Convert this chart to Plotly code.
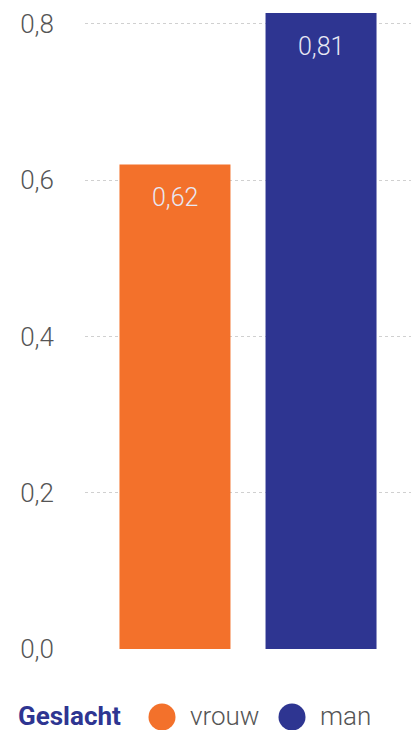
import plotly.graph_objects as go

categories = ["vrouw", "man"]
values = [0.62, 0.814]
colors = ["#F3712B", "#2E3591"]
legend_title = "Geslacht"
tick_vals = [0.0, 0.2, 0.4, 0.6, 0.8]

fig = go.Figure()
fig.add_trace(go.Bar(
    x=categories, y=values, marker=dict(color=colors, line=dict(width=0)),
    showlegend=False, hoverinfo="skip",
))

# value labels inside top of bars
for c, v in zip(categories, values):
    fig.add_annotation(
        x=c, y=v, xref="x", yref="y", text=f"{v:.2f}".replace(".", ","),
        showarrow=False, yshift=-33, yanchor="middle",
        font=dict(family="Roboto", size=25, color="#E8E8F4", weight=300),
    )

# legend built manually (large circle markers)
leg_y = (649 - 716) / 638
fig.add_annotation(x=(17 - 85) / 326, y=leg_y, xref="paper", yref="paper",
                   text=f"<b>{legend_title}</b>", showarrow=False,
                   xanchor="left", yanchor="middle", height=28, borderpad=0,
                   font=dict(family="Roboto", size=26, color="#2E3591"))
circle_x = [162, 292]
label_x = [189, 319]
for c, col, cx, lx in zip(categories, colors, circle_x, label_x):
    fig.add_shape(type="circle", xref="paper", yref="paper",
                  xsizemode="pixel", ysizemode="pixel",
                  xanchor=(cx - 85) / 326, yanchor=(649 - 717) / 638,
                  x0=-13.5, x1=13.5, y0=-13.5, y1=13.5,
                  fillcolor=col, line=dict(width=0))
    fig.add_annotation(x=(lx - 85) / 326, y=leg_y, xref="paper", yref="paper",
                       text=c, showarrow=False, xanchor="left", yanchor="middle",
                       height=28, borderpad=0,
                       font=dict(family="Roboto", size=26, color="#555555", weight=300))

fig.update_layout(
    width=411, height=730,
    margin=dict(l=85, r=0, t=11, b=81),
    paper_bgcolor="white", plot_bgcolor="white",
    separators=",.",
    bargap=0.24,
    font=dict(family="Roboto"),
)
fig.update_xaxes(range=[-0.616, 1.616], showticklabels=False, showgrid=False,
                 zeroline=False, showline=False, ticks="")
fig.update_yaxes(range=[0, 0.8166], tickvals=tick_vals, tickformat=".1f",
                 showgrid=True, gridcolor="#D0D0D0", griddash="dot", gridwidth=1,
                 zeroline=False, showline=False,
                 tickfont=dict(family="Roboto", size=26, color="#555555", weight=300),
                 ticklabelstandoff=30)

fig.write_html("out.html")
